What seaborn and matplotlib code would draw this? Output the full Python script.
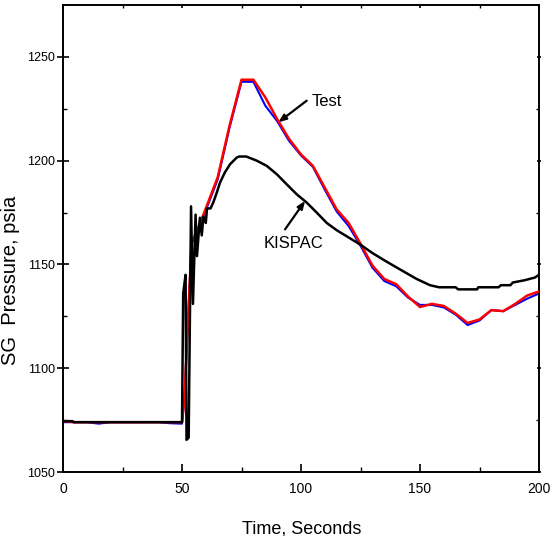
import matplotlib
matplotlib.use("Agg")
import matplotlib.pyplot as plt
from matplotlib import font_manager
import seaborn as sns
import pandas as pd

# ---- data ----
t_test = [0, 5, 10, 15, 20, 25, 30, 35, 40, 45, 50, 51, 54, 59, 65, 70, 75, 80, 85, 90,
          95, 100, 105, 110, 115, 120, 125, 130, 135, 140, 145, 150, 155, 160, 165,
          170, 175, 180, 185, 190, 195, 200]
p_test_red = [1074.5, 1074, 1074, 1074, 1074, 1074, 1074, 1074, 1074, 1074, 1074, 1085,
              1160, 1174, 1192, 1217, 1239, 1239, 1230.5, 1220, 1210.5, 1203, 1197.5,
              1187, 1176.5, 1170, 1160, 1149.5, 1143, 1140.5, 1134.5, 1129.5, 1131,
              1130, 1126.3, 1121.8, 1123.5, 1128, 1127.5, 1131, 1135, 1137]
p_test_blue = [1074, 1074, 1074, 1073.3, 1074, 1074, 1074, 1074, 1074, 1073.5, 1073.3,
               1085, 1160, 1173, 1191, 1216, 1238, 1238, 1226.5, 1219, 1209.5, 1202.5,
               1197, 1186, 1175.5, 1168.5, 1159, 1148.5, 1142, 1139.5, 1134, 1130.5,
               1130.5, 1129.3, 1125.8, 1120.8, 1123, 1128, 1127.5, 1130.5, 1133.5, 1136]

t_kispac = [0, 4, 4.5, 50, 50.5, 51.5, 51.9, 52.8, 53.8, 54.6, 55.7, 56.3, 57.5, 58.3,
            59, 60, 60.5, 62, 63.2, 64.6, 66, 68, 70.2, 73, 74, 77, 81.4, 85.6, 89.8,
            94, 98.2, 102.4, 106.6, 110.8, 115, 120, 125, 130, 135, 141.6, 148.6,
            154.2, 158, 165, 166, 174, 174.5, 183, 184, 188, 189, 194, 198.3, 200]
p_kispac = [1074.5, 1074.5, 1074, 1074, 1136, 1145, 1065.5, 1066.5, 1178, 1131, 1174,
            1154, 1172.5, 1164, 1173, 1170, 1177, 1177, 1180, 1184.6, 1189.5, 1194.3,
            1198.3, 1201.5, 1202, 1202, 1200, 1197.5, 1193.5, 1188.6, 1183.8, 1179.8,
            1175, 1170, 1166.5, 1163, 1159.5, 1155.5, 1152, 1147.6, 1143, 1140, 1139,
            1139, 1138, 1138, 1139, 1139, 1140, 1140, 1141.3, 1142.4, 1143.7, 1145]

x_ticks = [0, 50, 100, 150, 200]
y_ticks = [1050, 1100, 1150, 1200, 1250]

# ---- style / fonts ----
sns.set_style("white")
plt.rcParams['font.family'] = ['Liberation Sans', 'DejaVu Sans']
for k in ['text.color', 'axes.labelcolor', 'xtick.color', 'ytick.color', 'axes.edgecolor']:
    plt.rcParams[k] = 'black'
names = {f.name for f in font_manager.fontManager.ttflist}
narrow = 'Liberation Sans Narrow' in names
tick_family = ['Liberation Sans Narrow'] if narrow else ['Liberation Sans']
xt_size = 11 if narrow else 10
yt_size = 10 if narrow else 9

df_test = pd.DataFrame({"t": t_test, "red": p_test_red, "blue": p_test_blue})
df_k = pd.DataFrame({"t": t_kispac, "p": p_kispac})

fig = plt.figure(figsize=(5.54, 5.36), dpi=100)
ax = fig.add_axes([63 / 554, 1 - 472 / 536, 476 / 554, 467 / 536])

sns.lineplot(data=df_test, x="t", y="blue", color="#0000ff", lw=1.5, sort=False,
             estimator=None, ax=ax, zorder=2)
sns.lineplot(data=df_test, x="t", y="red", color="#ff0000", lw=1.8, sort=False,
             estimator=None, ax=ax, zorder=3)
sns.lineplot(data=df_k, x="t", y="p", color="black", lw=1.8, sort=False,
             estimator=None, ax=ax, zorder=4)

ax.set_xlim(0, 200)
ax.set_ylim(1050, 1275)
ax.set_xticks(x_ticks)
ax.set_yticks(y_ticks)
ax.set_xticks([25, 75, 125, 175], minor=True)
ax.set_yticks([1075, 1125, 1175, 1225], minor=True)

for s in ax.spines.values():
    s.set_linewidth(1.4)
    s.set_color("black")

ax.tick_params(axis='x', which='major', direction='in', length=6, width=1.2,
               pad=7, top=True, bottom=True)
ax.tick_params(axis='x', which='minor', direction='in', length=3.5, width=1.0,
               top=True, bottom=True)
ax.tick_params(axis='y', which='major', direction='inout', length=8, width=1.2,
               pad=1.5, left=True, right=True)
ax.tick_params(axis='y', which='minor', direction='in', length=3, width=1.0,
               left=True, right=True)
for tk in ax.xaxis.get_major_ticks() + ax.xaxis.get_minor_ticks():
    tk.tick2line.set_markersize(2.5)
for tk in ax.yaxis.get_major_ticks() + ax.yaxis.get_minor_ticks():
    tk.tick2line.set_markersize(2.5)

for lab in ax.get_xticklabels():
    lab.set_family(tick_family)
    lab.set_fontsize(xt_size)
for lab in ax.get_yticklabels():
    lab.set_family(tick_family)
    lab.set_fontsize(yt_size)

ax.set_xlabel("Time, Seconds", fontsize=13)
ax.set_ylabel("SG  Pressure, psia", fontsize=14.5)
ax.xaxis.set_label_coords(0.502, -0.103)
ax.yaxis.set_label_coords(-0.09, 0.41)

arrow = dict(arrowstyle="-|>,head_length=0.45,head_width=0.18", color="black",
             lw=1.6, shrinkA=0, shrinkB=0)
ax.annotate("", xy=(90.5, 1218.5), xytext=(102.4, 1228.9), arrowprops=arrow)
ax.text(104.5, 1228.5, "Test", fontsize=12, ha="left", va="center")
ax.annotate("", xy=(101.7, 1180.6), xytext=(93.3, 1166.9), arrowprops=arrow)
ax.text(96.7, 1160, "KISPAC", fontsize=12, ha="center", va="center")

fig.savefig("out.png", dpi=100)
